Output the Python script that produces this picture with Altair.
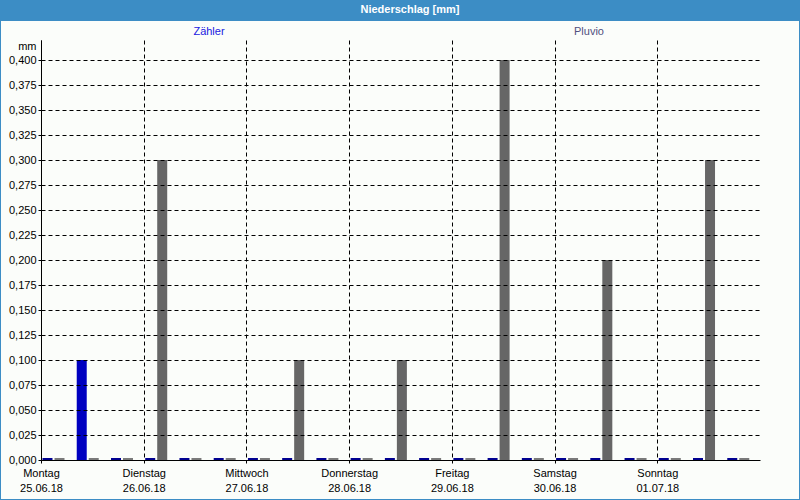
import altair as alt
import pandas as pd

# ---- data ----
day_names = ["Montag", "Dienstag", "Mittwoch", "Donnerstag", "Freitag", "Samstag", "Sonntag"]
day_dates = ["25.06.18", "26.06.18", "27.06.18", "28.06.18", "29.06.18", "30.06.18", "01.07.18"]
slot_hours = 8  # one bar group every 8 hours, 21 groups over 7 days
series_names = ["Zähler", "Pluvio"]
zaehler = [0, 0.1, 0, 0, 0, 0, 0, 0, 0, 0, 0, 0, 0, 0, 0, 0, 0, 0, 0, 0, 0]
pluvio = [0, 0, 0, 0.3, 0, 0, 0, 0.1, 0, 0, 0.1, 0, 0, 0.4, 0, 0, 0.2, 0, 0, 0.3, 0]
y_ticks = [i * 0.025 for i in range(17)]

rows = []
for i, v in enumerate(zaehler):
    rows.append({"slot": i, "series": "Zähler", "value": v})
for i, v in enumerate(pluvio):
    rows.append({"slot": i, "series": "Pluvio", "value": v})
df = pd.DataFrame(rows)

W, H = 719, 420
FONT = "Liberation Sans"
px_h = 168 / W  # hours per pixel

bars = alt.Chart(df).transform_calculate(
    off="datum.series == 'Zähler' ? %f : %f" % (1.5 * px_h, 13.5 * px_h),
).transform_calculate(
    x0=f"datum.slot * {slot_hours} + datum.off",
    x1=f"datum.slot * {slot_hours} + datum.off + {10 * px_h}",
    ytop="max(datum.value, 0.002)",
    ck="datum.series + (datum.value == 0 ? '0' : '')",
).mark_rect().encode(
    x=alt.X("x0:Q", scale=alt.Scale(domain=[0, 168], nice=False, zero=False),
            axis=alt.Axis(values=[0, 24, 48, 72, 96, 120, 144],
                          labelExpr="[" + str(day_names) + "[datum.value/24], " + str(day_dates) + "[datum.value/24]]",
                          grid=True, gridColor="black", gridDash=[4, 3], gridOpacity=1, gridWidth=1,
                          domainColor="black", tickColor="black", tickSize=3,
                          labelFont=FONT, labelFontSize=11, labelColor="black",
                          labelBaseline="top", labelPadding=4, labelLineHeight=15,
                          labelAlign="center", labelFlush=False, labelOverlap=False,
                          title=None, zindex=1)),
    x2="x1:Q",
    y=alt.Y("ytop:Q", scale=alt.Scale(domain=[0, 0.42], nice=False),
            axis=alt.Axis(values=y_ticks,
                          labelExpr="replace(format(datum.value, '.3f'), '.', ',')",
                          grid=True, gridColor="black", gridDash=[4, 3], gridOpacity=1, gridWidth=1,
                          domainColor="black", tickColor="black", tickSize=3,
                          labelFont=FONT, labelFontSize=11, labelColor="black", labelPadding=2,
                          title="mm", titleAngle=0, titleFont=FONT, titleFontSize=11,
                          titleFontWeight="normal", titleColor="black",
                          titleAlign="right", titleBaseline="middle", titleX=-5, titleY=6,
                          zindex=1)),
    y2=alt.datum(0),
    color=alt.Color("ck:N", legend=None,
                    scale=alt.Scale(domain=["Zähler", "Pluvio", "Zähler0", "Pluvio0"],
                                    range=["#0000C0", "#666666", "#000090", "#7A7A7A"])),
)

one = pd.DataFrame({"k": [0]})
bg = alt.Chart(one).mark_rect(color="#FBFDFA").encode(
    x=alt.value(-40), x2=alt.value(758), y=alt.value(-19), y2=alt.value(459)
)
title = alt.Chart(one).mark_text(font=FONT, fontSize=11, fontWeight="bold", color="white",
                                 align="center", baseline="middle").encode(
    x=alt.value(369), y=alt.value(-30), text=alt.value("Niederschlag [mm]")
)
lab1 = alt.Chart(one).mark_text(font=FONT, fontSize=11, color="#2020E0",
                                align="center", baseline="middle").encode(
    x=alt.value(168), y=alt.value(-8), text=alt.value(series_names[0])
)
lab2 = alt.Chart(one).mark_text(font=FONT, fontSize=11, color="#505080",
                                align="center", baseline="middle").encode(
    x=alt.value(548), y=alt.value(-8), text=alt.value(series_names[1])
)

chart = alt.layer(bg, bars, title, lab1, lab2).properties(
    width=W, height=H, autosize="none",
    padding={"left": 41, "top": 40, "right": 40, "bottom": 40},
    background="#3C8DC5",
).configure_view(stroke="black", strokeWidth=1, fill="#FBFDFA")

chart.save("out.html", embed_options={"renderer": "svg", "actions": False})
